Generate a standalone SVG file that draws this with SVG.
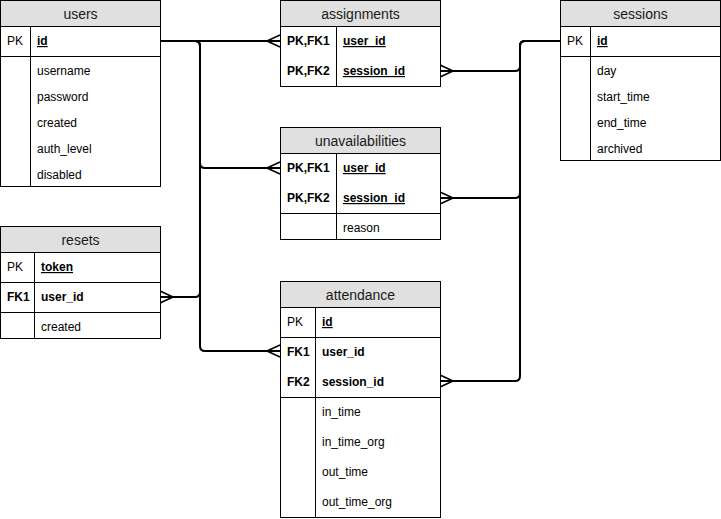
<svg xmlns="http://www.w3.org/2000/svg" width="721" height="519" viewBox="0 0 721 519">
<style>
.box{fill:#fff;stroke:#000;stroke-width:1}
.hdr{fill:#e0e0e0;stroke:#000;stroke-width:1}
.ln{stroke:#000;stroke-width:1;fill:none}
.t{font-family:"Liberation Sans",Arial,sans-serif;font-size:12px;fill:#000}
.h{font-family:"Liberation Sans",Arial,sans-serif;font-size:14px;fill:#1a1a1a;text-anchor:middle}
.b{font-weight:bold}
.u{text-decoration:underline}
.c{fill:none;stroke:#000;stroke-width:2;marker-end:url(#many)}
</style>
<defs>
<marker id="many" markerUnits="userSpaceOnUse" viewBox="-16 -8 18 16" refX="0" refY="0" markerWidth="18" markerHeight="16" orient="auto" overflow="visible">
<path d="M-13,0 L0,-6 M-13,0 L0,6" fill="none" stroke="#000" stroke-width="1.6"/>
</marker>
</defs>
<g id="connectors">
<path class="c" d="M160,41 H280"/>
<path class="c" d="M160,41 H195 Q200,41 200,46 V163 Q200,168 205,168 H280"/>
<path class="c" d="M160,41 H195 Q200,41 200,46 V292 Q200,297 195,297 H160"/>
<path class="c" d="M160,41 H195 Q200,41 200,46 V346 Q200,351 205,351 H280"/>
<path class="c" d="M560,41 H525 Q520,41 520,46 V66 Q520,71 515,71 H440"/>
<path class="c" d="M560,41 H525 Q520,41 520,46 V193 Q520,198 515,198 H440"/>
<path class="c" d="M560,41 H525 Q520,41 520,46 V376 Q520,381 515,381 H440"/>
</g>
<g id="users">
<rect class="box" x="0.5" y="0.5" width="160" height="186"/>
<rect class="hdr" x="0.5" y="0.5" width="160" height="26"/>
<text class="h" x="80.5" y="19">users</text>
<path class="ln" d="M0.5,56.5 H160.5 M30.5,26.5 V186.5"/>
<text class="t" x="7" y="45">PK</text>
<text class="t b u" x="37" y="45">id</text>
<text class="t" x="37" y="75">username</text>
<text class="t" x="37" y="101">password</text>
<text class="t" x="37" y="127">created</text>
<text class="t" x="37" y="153">auth_level</text>
<text class="t" x="37" y="179">disabled</text>
</g>
<g id="assignments">
<rect class="box" x="280.5" y="0.5" width="160" height="86"/>
<rect class="hdr" x="280.5" y="0.5" width="160" height="26"/>
<text class="h" x="360.5" y="19">assignments</text>
<path class="ln" d="M336.5,26.5 V86.5"/>
<text class="t b" x="287" y="45">PK,FK1</text>
<text class="t b u" x="343" y="45">user_id</text>
<text class="t b" x="287" y="75">PK,FK2</text>
<text class="t b u" x="343" y="75">session_id</text>
</g>
<g id="sessions">
<rect class="box" x="560.5" y="0.5" width="160" height="160"/>
<rect class="hdr" x="560.5" y="0.5" width="160" height="26"/>
<text class="h" x="640.5" y="19">sessions</text>
<path class="ln" d="M560.5,56.5 H720.5 M590.5,26.5 V160.5"/>
<text class="t" x="567" y="45">PK</text>
<text class="t b u" x="597" y="45">id</text>
<text class="t" x="597" y="75">day</text>
<text class="t" x="597" y="101">start_time</text>
<text class="t" x="597" y="127">end_time</text>
<text class="t" x="597" y="153">archived</text>
</g>
<g id="unavailabilities">
<rect class="box" x="280.5" y="127.5" width="160" height="112"/>
<rect class="hdr" x="280.5" y="127.5" width="160" height="26"/>
<text class="h" x="360.5" y="146">unavailabilities</text>
<path class="ln" d="M280.5,213.5 H440.5 M336.5,153.5 V239.5"/>
<text class="t b" x="287" y="172">PK,FK1</text>
<text class="t b u" x="343" y="172">user_id</text>
<text class="t b" x="287" y="202">PK,FK2</text>
<text class="t b u" x="343" y="202">session_id</text>
<text class="t" x="343" y="232">reason</text>
</g>
<g id="resets">
<rect class="box" x="0.5" y="226.5" width="160" height="112"/>
<rect class="hdr" x="0.5" y="226.5" width="160" height="26"/>
<text class="h" x="80.5" y="245">resets</text>
<path class="ln" d="M0.5,282.5 H160.5 M0.5,312.5 H160.5 M34.5,252.5 V338.5"/>
<text class="t" x="7" y="271">PK</text>
<text class="t b u" x="41" y="271">token</text>
<text class="t b" x="7" y="301">FK1</text>
<text class="t b" x="41" y="301">user_id</text>
<text class="t" x="41" y="331">created</text>
</g>
<g id="attendance">
<rect class="box" x="280.5" y="281.5" width="160" height="236"/>
<rect class="hdr" x="280.5" y="281.5" width="160" height="26"/>
<text class="h" x="360.5" y="300">attendance</text>
<path class="ln" d="M280.5,337.5 H440.5 M280.5,397.5 H440.5 M315.5,307.5 V517.5"/>
<text class="t" x="287" y="326">PK</text>
<text class="t b u" x="322" y="326">id</text>
<text class="t b" x="287" y="356">FK1</text>
<text class="t b" x="322" y="356">user_id</text>
<text class="t b" x="287" y="386">FK2</text>
<text class="t b" x="322" y="386">session_id</text>
<text class="t" x="322" y="416">in_time</text>
<text class="t" x="322" y="446">in_time_org</text>
<text class="t" x="322" y="476">out_time</text>
<text class="t" x="322" y="506">out_time_org</text>
</g>
</svg>
